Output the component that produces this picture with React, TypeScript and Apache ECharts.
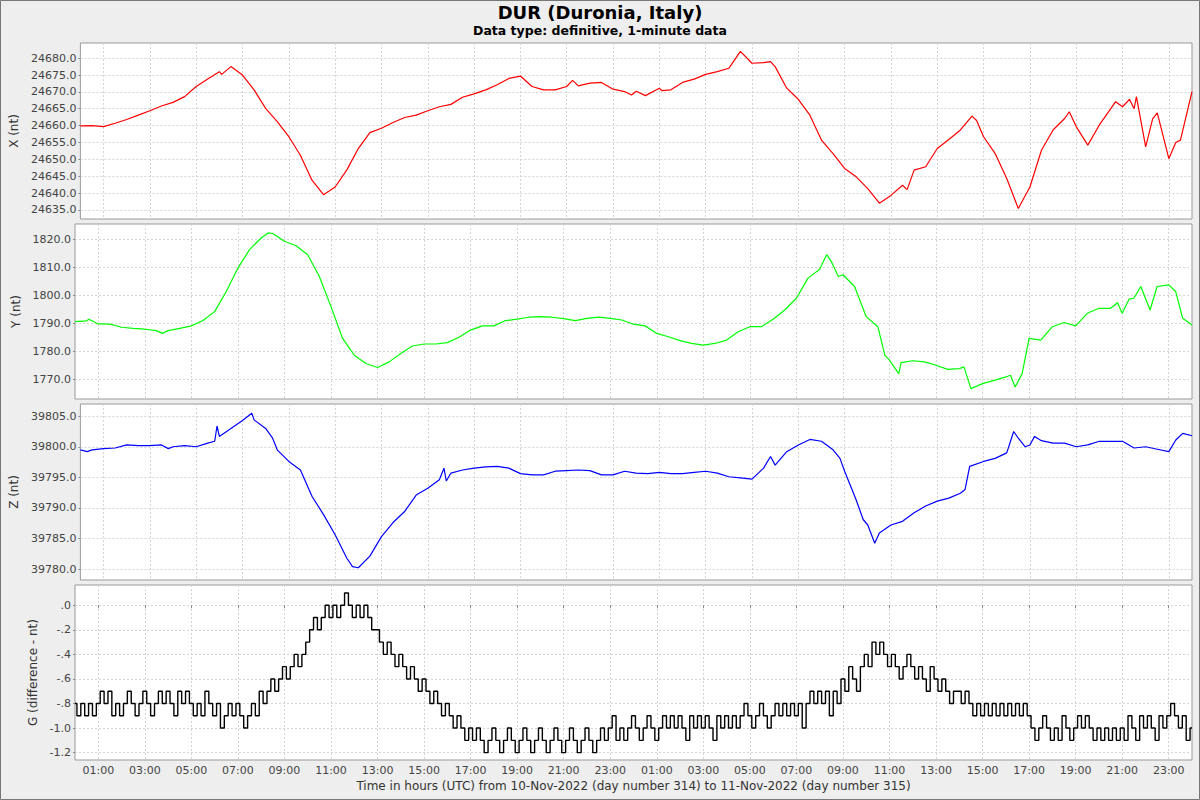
import React, { useEffect, useRef } from "react";
import * as echarts from "echarts";

const hourTicks = [1, 3, 5, 7, 9, 11, 13, 15, 17, 19, 21, 23, 25, 27, 29, 31, 33, 35, 37, 39, 41, 43, 45, 47];
const xTicks = [24635, 24640, 24645, 24650, 24655, 24660, 24665, 24670, 24675, 24680];
const yTicks = [1770, 1780, 1790, 1800, 1810, 1820];
const zTicks = [39780, 39785, 39790, 39795, 39800, 39805];
const gTicks = [-1.2, -1.0, -0.8, -0.6, -0.4, -0.2, 0];

// [hour since 10-Nov-2022 00:00 UTC, nT]
const xComponent = [
  [0, 24659.9], [0.5, 24660.0], [1, 24659.7], [1.5, 24660.7], [2, 24661.8], [2.5, 24663.1], [3, 24664.4],
  [3.5, 24665.8], [4, 24666.9], [4.5, 24668.6], [5, 24671.6], [5.5, 24673.8], [6, 24676.0], [6.1, 24675.2],
  [6.5, 24677.5], [7, 24675.0], [7.5, 24670.6], [8, 24665.1], [8.5, 24661.2], [9, 24656.7], [9.5, 24651.2],
  [10, 24643.8], [10.5, 24639.5], [11, 24641.8], [11.5, 24646.8], [12, 24653.2], [12.5, 24657.9], [13, 24659.2],
  [13.5, 24660.9], [14, 24662.4], [14.5, 24663.1], [15, 24664.4], [15.5, 24665.6], [16, 24666.3], [16.5, 24668.4],
  [17, 24669.4], [17.5, 24670.6], [18, 24672.1], [18.5, 24674.0], [19, 24674.7], [19.5, 24671.6], [20, 24670.6],
  [20.5, 24670.6], [21, 24671.6], [21.25, 24673.4], [21.5, 24671.8], [22, 24672.6], [22.5, 24672.8], [23, 24670.8],
  [23.5, 24670.1], [23.8, 24669.1], [24, 24670.2], [24.4, 24668.9], [25, 24671.1], [25.1, 24670.4], [25.5, 24670.6],
  [26, 24672.8], [26.5, 24673.8], [27, 24675.2], [27.5, 24676.0], [28, 24677.0], [28.3, 24680.0], [28.5, 24682.0],
  [29, 24678.5], [29.5, 24678.7], [29.8, 24679.0], [30, 24677.5], [30.5, 24671.1], [31, 24667.8], [31.5, 24663.1],
  [32, 24655.7], [32.5, 24651.7], [33, 24647.3], [33.5, 24644.8], [34, 24641.3], [34.5, 24637.0], [35, 24639.3],
  [35.5, 24642.3], [35.7, 24641.0], [36, 24646.8], [36.5, 24647.8], [37, 24653.2], [37.5, 24655.9], [38, 24658.7],
  [38.5, 24662.8], [38.7, 24661.5], [39, 24656.7], [39.5, 24651.7], [40, 24644.3], [40.5, 24635.4], [41, 24641.8],
  [41.5, 24652.7], [42, 24658.7], [42.5, 24662.1], [42.7, 24664.1], [43, 24659.7], [43.5, 24654.2], [44, 24660.2],
  [44.5, 24665.1], [44.7, 24667.1], [45, 24665.6], [45.3, 24667.8], [45.5, 24665.0], [45.6, 24668.6], [46, 24653.7],
  [46.3, 24662.0], [46.5, 24663.8], [47, 24650.2], [47.3, 24655.0], [47.5, 24655.7], [48, 24670.1],
];

const yComponent = [
  [0, 1790.6], [0.5, 1790.9], [0.6, 1791.5], [1, 1789.8], [1.5, 1789.7], [2, 1788.6], [2.5, 1788.2], [3, 1787.9],
  [3.5, 1787.4], [3.75, 1786.4], [4, 1787.4], [4.5, 1788.2], [5, 1789.1], [5.5, 1791.0], [6, 1794.2], [6.5, 1801.4],
  [7, 1809.8], [7.5, 1816.4], [8, 1820.6], [8.3, 1822.4], [8.5, 1822.2], [9, 1819.4], [9.5, 1817.8], [10, 1814.6],
  [10.5, 1806.8], [11, 1796.0], [11.5, 1784.6], [12, 1778.6], [12.5, 1775.6], [13, 1774.2], [13.5, 1776.2],
  [14, 1779.2], [14.5, 1781.9], [15, 1782.6], [15.5, 1782.6], [16, 1783.1], [16.5, 1785.0], [17, 1787.6],
  [17.5, 1789.1], [18, 1789.1], [18.5, 1791.0], [19, 1791.5], [19.5, 1792.2], [20, 1792.4], [20.5, 1792.2],
  [21, 1791.7], [21.5, 1791.0], [22, 1791.8], [22.5, 1792.2], [23, 1791.8], [23.5, 1791.2], [24, 1789.7],
  [24.5, 1789.1], [25, 1786.4], [25.5, 1785.2], [26, 1783.8], [26.5, 1782.8], [27, 1782.2], [27.5, 1782.8],
  [28, 1784.0], [28.5, 1787.0], [29, 1788.8], [29.5, 1788.8], [30, 1791.5], [30.5, 1794.8], [31, 1799.0],
  [31.5, 1806.2], [32, 1809.4], [32.3, 1814.6], [32.5, 1812.2], [32.8, 1806.8], [33, 1807.4], [33.5, 1803.2],
  [34, 1792.4], [34.5, 1788.8], [34.8, 1778.6], [35, 1776.8], [35.4, 1772.0], [35.5, 1775.9], [36, 1776.6],
  [36.5, 1776.2], [37, 1775.0], [37.5, 1773.5], [38, 1773.8], [38.2, 1774.4], [38.5, 1766.6], [39, 1768.4],
  [39.5, 1769.6], [40, 1770.8], [40.2, 1771.4], [40.4, 1767.2], [40.7, 1772.0], [41, 1784.6], [41.5, 1784.0],
  [42, 1788.8], [42.5, 1790.3], [43, 1789.1], [43.5, 1793.6], [44, 1795.4], [44.5, 1795.4], [44.8, 1797.4],
  [45, 1793.6], [45.3, 1798.7], [45.5, 1799.0], [45.8, 1803.2], [46.2, 1794.8], [46.5, 1803.2], [47, 1803.8],
  [47.3, 1801.4], [47.6, 1791.8], [48, 1789.4],
];

const zComponent = [
  [0, 39799.5], [0.3, 39799.2], [0.5, 39799.5], [1, 39799.7], [1.5, 39799.8], [2, 39800.3], [2.5, 39800.2],
  [3, 39800.2], [3.5, 39800.3], [3.8, 39799.7], [4, 39800.0], [4.5, 39800.2], [5, 39800.0], [5.5, 39800.6],
  [5.8, 39800.9], [5.9, 39803.4], [6, 39801.7], [6.5, 39803.0], [7, 39804.3], [7.4, 39805.5], [7.5, 39804.4],
  [8, 39803.0], [8.3, 39801.4], [8.5, 39799.5], [9, 39797.6], [9.5, 39796.2], [10, 39791.9], [10.5, 39788.9],
  [11, 39785.6], [11.5, 39781.8], [11.75, 39780.4], [12, 39780.2], [12.5, 39782.1], [13, 39785.3], [13.5, 39787.6],
  [14, 39789.4], [14.5, 39792.1], [15, 39793.2], [15.5, 39794.6], [15.7, 39796.5], [15.8, 39794.4], [16, 39795.7],
  [16.5, 39796.2], [17, 39796.5], [17.5, 39796.7], [18, 39796.8], [18.5, 39796.5], [19, 39795.6], [19.5, 39795.4],
  [20, 39795.4], [20.5, 39796.0], [21, 39796.1], [21.5, 39796.2], [22, 39796.1], [22.5, 39795.4], [23, 39795.4],
  [23.5, 39796.0], [24, 39795.7], [24.5, 39795.6], [25, 39795.8], [25.5, 39795.6], [26, 39795.6], [26.5, 39795.8],
  [27, 39796.0], [27.5, 39795.7], [28, 39795.1], [28.5, 39794.9], [29, 39794.7], [29.5, 39796.5], [29.8, 39798.4],
  [30, 39797.0], [30.5, 39799.2], [31, 39800.3], [31.5, 39801.2], [32, 39800.9], [32.5, 39799.5], [32.8, 39798.1],
  [33, 39796.0], [33.5, 39791.3], [33.8, 39788.1], [34, 39787.2], [34.3, 39784.2], [34.5, 39785.9], [35, 39787.2],
  [35.5, 39787.8], [36, 39789.2], [36.5, 39790.3], [37, 39791.1], [37.5, 39791.6], [38, 39792.4], [38.2, 39793.0],
  [38.4, 39796.8], [39, 39797.6], [39.5, 39798.1], [40, 39799.0], [40.3, 39802.5], [40.5, 39801.4], [40.8, 39800.0],
  [41, 39800.3], [41.2, 39801.7], [41.5, 39801.0], [42, 39800.6], [42.5, 39800.6], [43, 39800.0], [43.5, 39800.3],
  [44, 39800.9], [44.5, 39800.9], [45, 39800.9], [45.5, 39799.8], [46, 39800.0], [46.5, 39799.6], [47, 39799.2],
  [47.3, 39801.1], [47.6, 39802.2], [48, 39801.8],
];

// G difference, one value every 10 minutes from 10-Nov-2022 00:00 UTC
const gStepHours = 1 / 6;
const gDifference = [
  -0.8, -0.9, -0.8, -0.9, -0.8, -0.9,
  -0.8, -0.7, -0.8, -0.7, -0.9, -0.8,
  -0.9, -0.8, -0.7, -0.8, -0.9, -0.8,
  -0.7, -0.8, -0.9, -0.8, -0.7, -0.8,
  -0.7, -0.8, -0.9, -0.7, -0.8, -0.7,
  -0.8, -0.9, -0.8, -0.9, -0.7, -0.8,
  -0.9, -0.8, -1.0, -0.9, -0.8, -0.9,
  -0.8, -0.9, -1.0, -0.9, -0.8, -0.9,
  -0.7, -0.8, -0.7, -0.6, -0.7, -0.6,
  -0.5, -0.6, -0.5, -0.4, -0.5, -0.4,
  -0.3, -0.2, -0.1, -0.2, -0.1, 0.0,
  -0.1, 0.0, -0.1, 0.0, 0.1, 0.0,
  -0.1, 0.0, -0.1, 0.0, -0.1, -0.2,
  -0.2, -0.3, -0.4, -0.3, -0.4, -0.5,
  -0.4, -0.5, -0.6, -0.5, -0.6, -0.7,
  -0.6, -0.7, -0.8, -0.7, -0.8, -0.9,
  -0.8, -0.9, -1.0, -0.9, -1.0, -1.1,
  -1.0, -1.1, -1.0, -1.1, -1.2, -1.1,
  -1.0, -1.1, -1.2, -1.1, -1.0, -1.1,
  -1.2, -1.1, -1.0, -1.1, -1.2, -1.1,
  -1.0, -1.1, -1.2, -1.1, -1.0, -1.1,
  -1.2, -1.1, -1.0, -1.1, -1.2, -1.1,
  -1.0, -1.1, -1.2, -1.1, -1.0, -1.1,
  -1.0, -0.9, -1.1, -1.0, -1.1, -1.0,
  -0.9, -1.0, -1.1, -1.0, -0.9, -1.0,
  -1.1, -1.0, -0.9, -1.0, -0.9, -1.0,
  -0.9, -1.0, -1.1, -0.9, -1.0, -0.9,
  -1.0, -0.9, -1.0, -1.1, -0.9, -1.0,
  -0.9, -1.0, -0.9, -1.0, -0.9, -0.8,
  -0.9, -1.0, -0.9, -0.8, -0.9, -1.0,
  -0.9, -0.8, -0.9, -0.8, -0.9, -0.8,
  -0.9, -0.8, -1.0, -0.8, -0.7, -0.8,
  -0.7, -0.8, -0.7, -0.9, -0.7, -0.8,
  -0.6, -0.7, -0.5, -0.6, -0.7, -0.5,
  -0.4, -0.5, -0.3, -0.4, -0.3, -0.4,
  -0.5, -0.4, -0.5, -0.6, -0.5, -0.4,
  -0.5, -0.6, -0.5, -0.6, -0.7, -0.5,
  -0.6, -0.7, -0.6, -0.7, -0.8, -0.7,
  -0.7, -0.8, -0.7, -0.8, -0.9, -0.8,
  -0.9, -0.8, -0.9, -0.8, -0.9, -0.8,
  -0.9, -0.8, -0.9, -0.8, -0.9, -0.8,
  -0.9, -1.0, -1.1, -1.0, -0.9, -1.0,
  -1.1, -1.0, -1.1, -0.9, -1.0, -1.1,
  -1.0, -0.9, -1.0, -0.9, -1.0, -1.1,
  -1.0, -1.1, -1.0, -1.1, -1.0, -1.1,
  -1.0, -1.1, -0.9, -1.0, -1.1, -0.9,
  -1.0, -0.9, -1.0, -1.1, -0.9, -1.0,
  -0.9, -0.8, -0.9, -1.0, -0.9, -1.1,
  -1.0,
];

const FONT = "DejaVu Sans";
const panels = [
  { top: 43, height: 176, name: "X (nt)", min: 24632.3, max: 24684.5, ticks: xTicks, gap: 51, color: "#ff0000", data: xComponent },
  { top: 224, height: 175, name: "Y (nt)", min: 1762.9, max: 1825.6, ticks: yTicks, gap: 46, color: "#00ff00", data: yComponent },
  { top: 404, height: 176, name: "Z (nt)", min: 39778.2, max: 39807.0, ticks: zTicks, gap: 52, color: "#0000ff", data: zComponent },
  { top: 585, height: 175, name: "G (difference - nt)", min: -1.26, max: 0.165, ticks: gTicks, gap: 31, color: "#000000", data: gDifference.map((v, i) => [i * gStepHours, v]) },
];

const fmtHour = (v: number) => String(v % 24).padStart(2, "0") + ":00";
const fmtG = (v: number) => v.toFixed(1).replace(/^(-?)0\./, "$1.");

export default function App() {
  const ref = useRef<HTMLDivElement>(null);
  useEffect(() => {
    if (!ref.current) return;
    const chart = echarts.init(ref.current, undefined, { renderer: "svg" });
    const split = { show: true, lineStyle: { color: "#d4d4d4", type: [2, 2] as any, width: 1 } };
    const option: any = {
      animation: false,
      backgroundColor: "#eeeeee",
      graphic: [
        {
          type: "text", x: 600, y: 12,
          style: { text: "DUR (Duronia, Italy)", align: "center", verticalAlign: "middle", font: `bold 18px "${FONT}"`, fill: "#000" },
        },
        {
          type: "text", x: 600, y: 30.5,
          style: { text: "Data type: definitive, 1-minute data", align: "center", verticalAlign: "middle", font: `bold 12.5px "${FONT}"`, fill: "#000" },
        },
        { type: "rect", shape: { x: 0.5, y: 0.5, width: 1199, height: 799 }, style: { fill: "none", stroke: "#777", lineWidth: 1 }, z: 100 },
      ],
      grid: panels.map((p) => ({
        left: 75, right: 8, top: p.top, height: p.height,
        show: true, backgroundColor: "#ffffff", borderColor: "#999999", borderWidth: 1,
      })),
      xAxis: panels.map((p, i) => {
        const bottom = i === panels.length - 1;
        return {
          type: "value", gridIndex: i, min: 0, max: 48,
          axisLine: { show: false },
          axisTick: { show: bottom, customValues: hourTicks, length: 3, lineStyle: { color: "#888" } },
          axisLabel: {
            show: bottom, customValues: hourTicks, formatter: fmtHour, margin: 5,
            fontFamily: FONT, fontSize: 11, color: "#444",
          },
          splitLine: split,
          name: bottom ? "Time in hours (UTC) from 10-Nov-2022 (day number 314) to 11-Nov-2022 (day number 315)" : "",
          nameLocation: "middle", nameGap: 20,
          nameTextStyle: { fontFamily: FONT, fontSize: 12, color: "#333" },
        };
      }),
      yAxis: panels.map((p, i) => ({
        type: "value", gridIndex: i, min: p.min, max: p.max, scale: true,
        axisLine: { show: false },
        axisTick: { show: true, customValues: p.ticks, length: 2, lineStyle: { color: "#888" } },
        axisLabel: {
          customValues: p.ticks, margin: 4,
          formatter: i === 3 ? fmtG : (v: number) => v.toFixed(1),
          fontFamily: FONT, fontSize: 11, color: "#444",
        },
        splitLine: split,
        name: p.name, nameLocation: "middle", nameGap: p.gap,
        nameTextStyle: { fontFamily: FONT, fontSize: 12, color: "#333" },
      })),
      series: panels.map((p, i) => ({
        type: "line", xAxisIndex: i, yAxisIndex: i, data: p.data,
        showSymbol: false, symbol: "none",
        step: i === 3 ? "middle" : undefined,
        lineStyle: { color: p.color, width: i === 3 ? 1.4 : 1.2 },
        silent: true,
      })),
    };
    chart.setOption(option);
    return () => chart.dispose();
  }, []);
  return <div ref={ref} style={{ position: "fixed", left: 0, top: 0, width: 1200, height: 800 }} />;
}
